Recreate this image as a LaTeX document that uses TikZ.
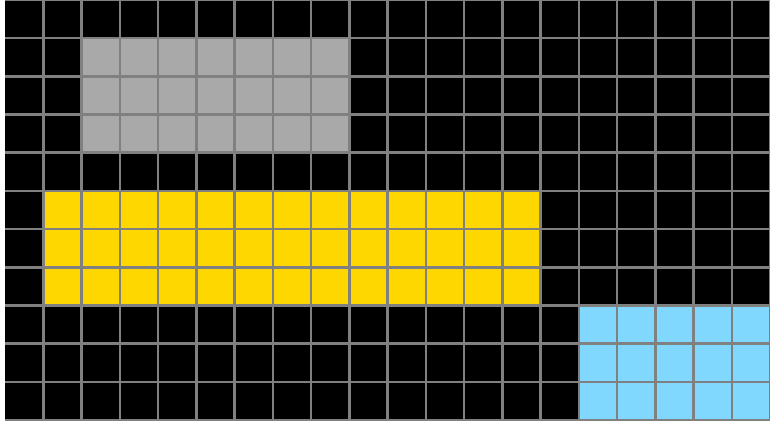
\documentclass[tikz,border=0pt]{standalone}
\definecolor{gridgray}{HTML}{808080}
\definecolor{cellgray}{HTML}{A9A9A9}
\definecolor{cellyellow}{HTML}{FFD700}
\definecolor{cellblue}{HTML}{80D8FF}
\tikzset{gridline/.style={draw=gridgray,line width=2.5pt}}
\begin{document}
\begin{tikzpicture}[x=1pt,y=-1pt]
\useasboundingbox (0,0) rectangle (770,425);
\fill[white] (0,0) rectangle (770,425);
\begin{scope}
\clip (5,0) rectangle (770,421.5);
\fill[black] (5,0) rectangle (770,420);
% gray block: cols 2-8, rows 1-3
\fill[cellgray] ({5+2*38.25},{1*38.18}) rectangle ({5+9*38.25},{4*38.18});
% yellow block: cols 1-13, rows 5-7
\fill[cellyellow] ({5+1*38.25},{5*38.18}) rectangle ({5+14*38.25},{8*38.18});
% blue block: cols 15-19, rows 8-10
\fill[cellblue] ({5+15*38.25},{8*38.18}) rectangle ({5+20*38.25},{11*38.18});
\foreach \k in {1,...,20} \draw[gridline] ({5+\k*38.25},0) -- ({5+\k*38.25},421);
\foreach \j in {0,...,11} \draw[gridline] (5,{\j*38.18}) -- (770,{\j*38.18});
\end{scope}
\end{tikzpicture}
\end{document}
